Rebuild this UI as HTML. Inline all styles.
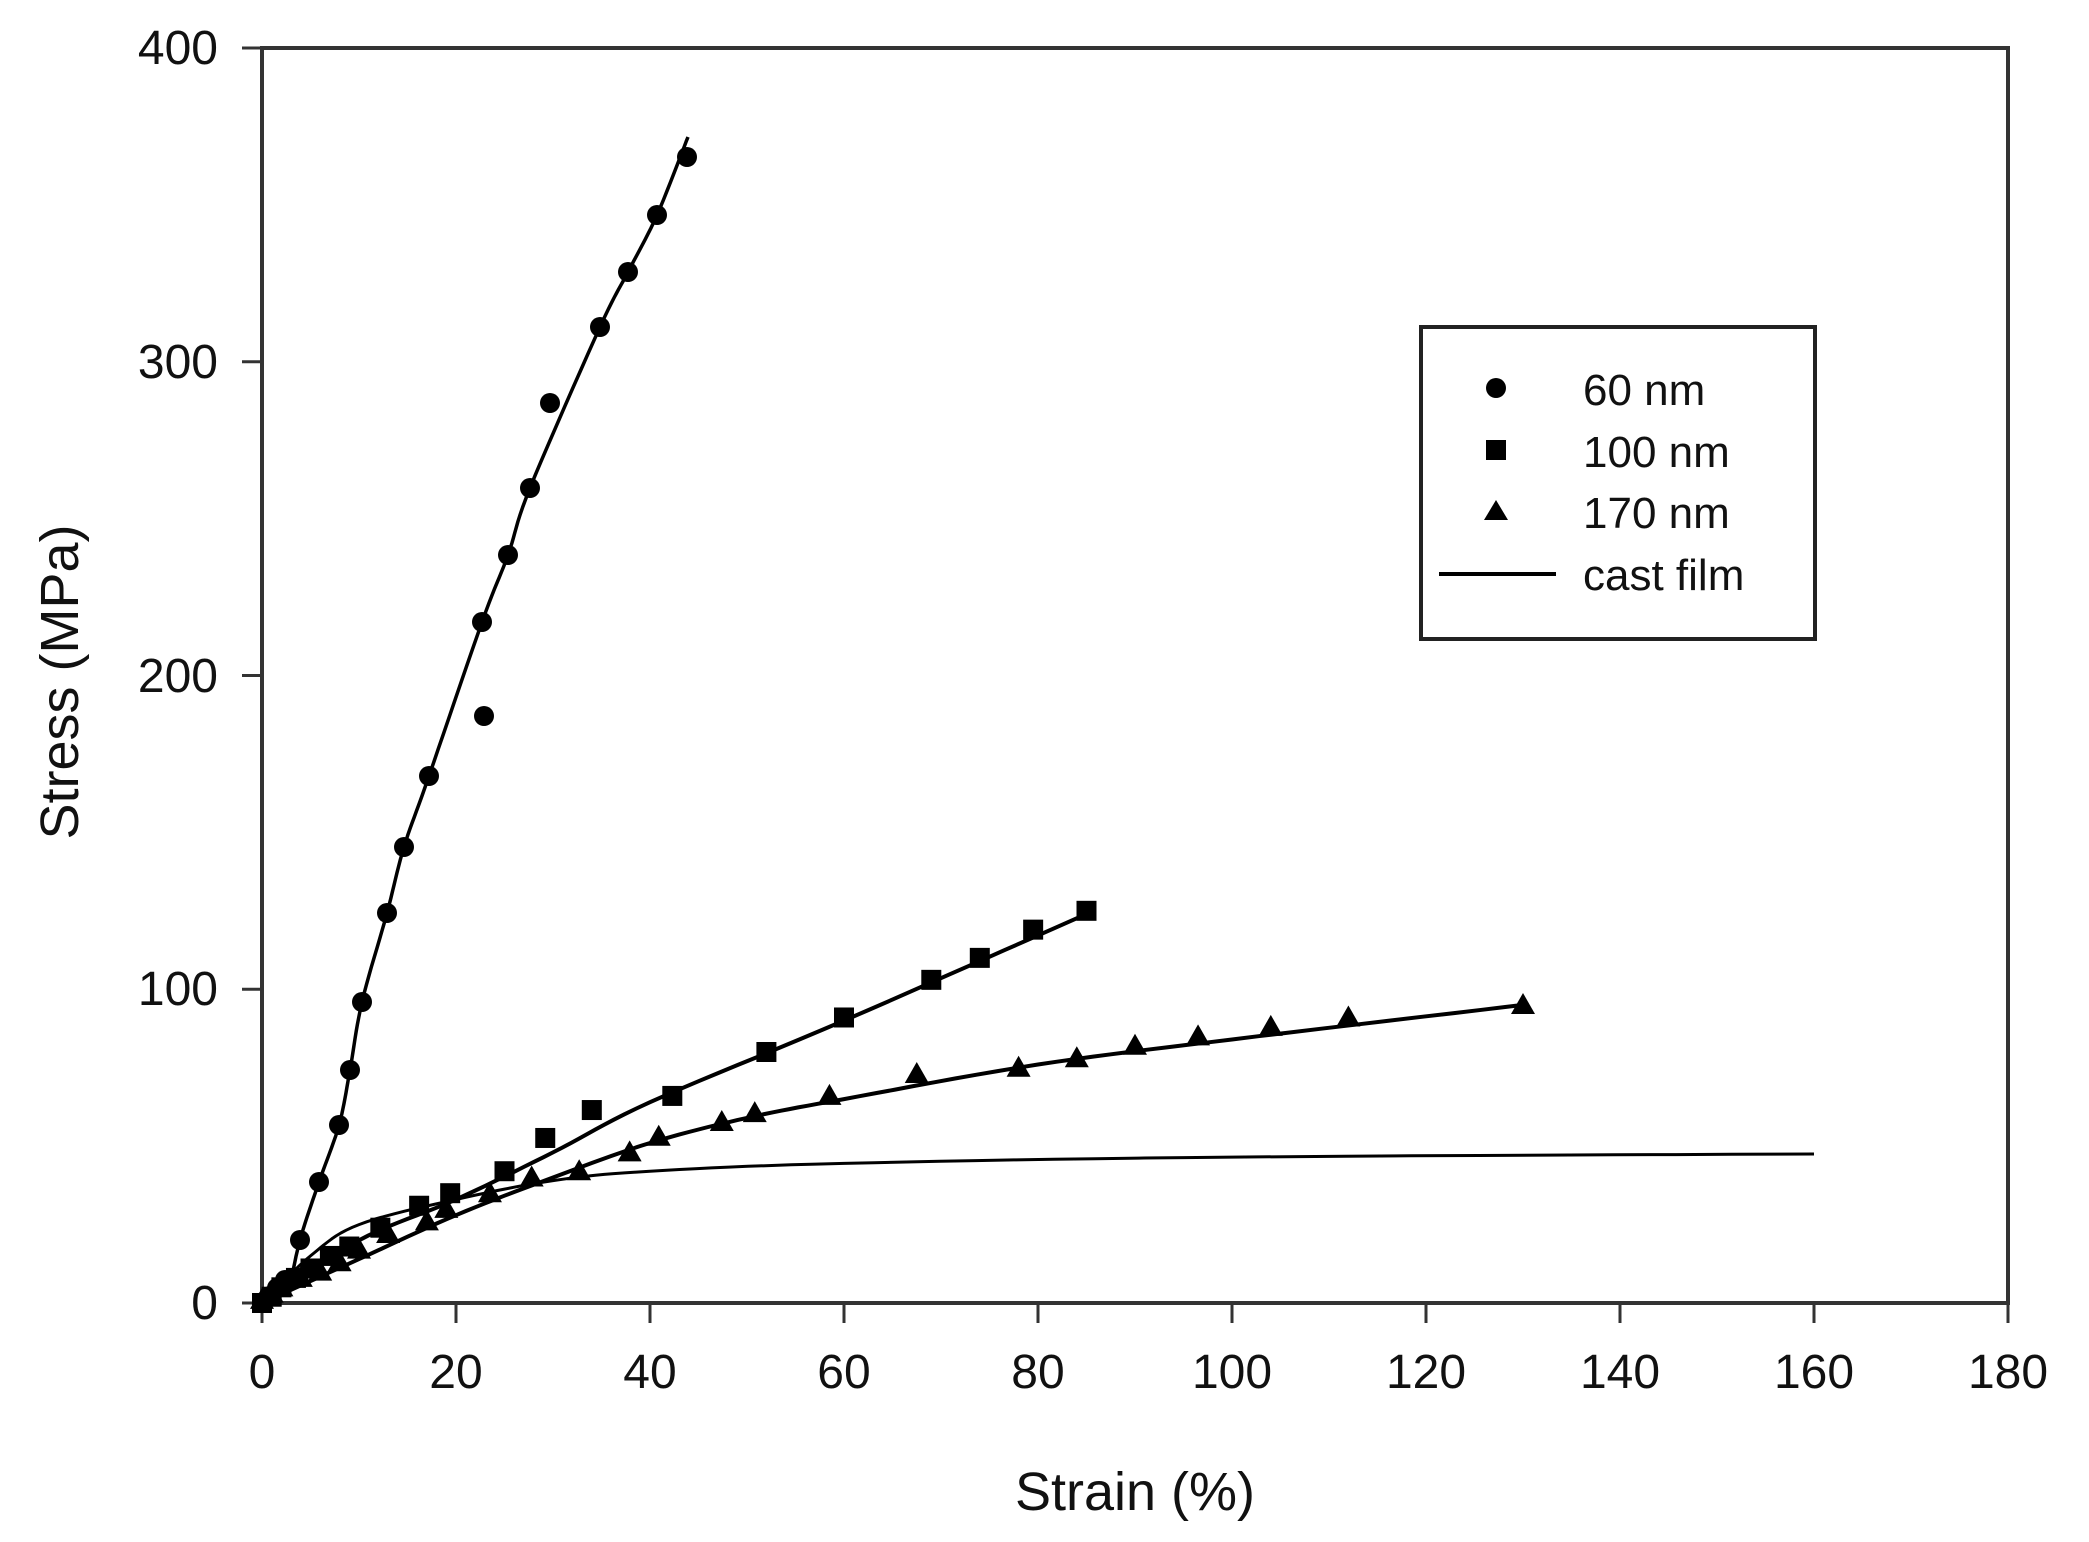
<!DOCTYPE html>
<html><head><meta charset="utf-8"><style>
html,body{margin:0;padding:0;background:#fff;}
svg{display:block;}
text{font-family:"Liberation Sans",Arial,sans-serif;fill:#111;}
</style></head><body>
<svg id="s" width="2089" height="1542" viewBox="0 0 2089 1542" xmlns="http://www.w3.org/2000/svg">
<rect width="2089" height="1542" fill="#fff"/>
<g id="ax" stroke="#333" stroke-width="4" fill="none">
<rect x="262" y="48" width="1746" height="1255"/>
</g>
<g id="ticks" stroke="#333" stroke-width="3"></g>
<g font-size="48" text-anchor="end">
<text x="218" y="64">400</text>
<text x="218" y="378">300</text>
<text x="218" y="692">200</text>
<text x="218" y="1005">100</text>
<text x="218" y="1319">0</text>
</g>
<g font-size="48" text-anchor="middle">
<text x="262" y="1388">0</text>
<text x="456" y="1388">20</text>
<text x="650" y="1388">40</text>
<text x="844" y="1388">60</text>
<text x="1038" y="1388">80</text>
<text x="1232" y="1388">100</text>
<text x="1426" y="1388">120</text>
<text x="1620" y="1388">140</text>
<text x="1814" y="1388">160</text>
<text x="2008" y="1388">180</text>
</g>
<text x="1135" y="1510" font-size="54" text-anchor="middle">Strain (%)</text>
<text transform="translate(78,682) rotate(-90)" font-size="54" text-anchor="middle">Stress (MPa)</text>
<g id="data"></g>
<rect x="1421" y="327" width="394" height="312" fill="#fff" stroke="#222" stroke-width="4"/>
<circle cx="1496" cy="388" r="10" fill="#000"/>
<rect x="1486" y="440" width="20" height="20" fill="#000"/>
<polygon points="1484,520 1508,520 1496,500" fill="#000"/>
<line x1="1439" y1="574" x2="1556" y2="574" stroke="#000" stroke-width="4"/>
<g font-size="44">
<text x="1583" y="405">60 nm</text>
<text x="1583" y="467">100 nm</text>
<text x="1583" y="528">170 nm</text>
<text x="1583" y="590">cast film</text>
</g>
</svg>
<script>
var NS="http://www.w3.org/2000/svg";
function X(x){return 262+x*9.7;}
function Y(y){return 1303-y*3.1375;}
function el(t,a,p){var e=document.createElementNS(NS,t);for(var k in a)e.setAttribute(k,a[k]);p.appendChild(e);return e;}
var tk=document.getElementById('ticks');
for(var i=0;i<=180;i+=20){el('line',{x1:X(i),y1:1303,x2:X(i),y2:1323},tk);}
for(var j=0;j<=400;j+=100){el('line',{x1:242,y1:Y(j),x2:262,y2:Y(j)},tk);}
var d=document.getElementById('data');
function pathPx(pts,w){var s='';pts.forEach(function(p,i){s+=(i?'L':'M')+p[0].toFixed(1)+','+p[1].toFixed(1);});el('path',{d:s,fill:'none',stroke:'#000','stroke-width':w,'stroke-linejoin':'round'},d);}
function path(pts,w){pathPx(pts.map(function(p){return [X(p[0]),Y(p[1])];}),w);}
function smooth(pts){var out=[];for(var i=0;i<pts.length-1;i++){var p0=pts[Math.max(0,i-1)],p1=pts[i],p2=pts[i+1],p3=pts[Math.min(pts.length-1,i+2)];for(var t=0;t<1;t+=0.1){var t2=t*t,t3=t2*t;out.push([0,1].map(function(k){return 0.5*((2*p1[k])+(-p0[k]+p2[k])*t+(2*p0[k]-5*p1[k]+4*p2[k]-p3[k])*t2+(-p0[k]+3*p1[k]-3*p2[k]+p3[k])*t3);}));}}out.push(pts[pts.length-1]);return out;}
path(smooth([[0,0],[5,15],[10,25],[20,33],[30,39],[40,42],[60,44.5],[100,46.5],[160,47.5]]),3);
pathPx(smooth([[290,1287],[300,1240],[319,1182],[339,1125],[350,1070],[362,1002],[387,913],[404,847],[429,776],[482,622],[508,555],[530,488],[600,327],[628,272],[657,215],[688,137]]),3.5);
path(smooth([[0,0],[10,20],[20,33],[30,48],[40,64],[60,90],[85,124]]),4);
path(smooth([[0,0],[10,14],[20,28],[30,40],[40,51],[50,59],[60,65],[80,76],[100,84],[130,95]]),4);
[[263,1302],[270,1296],[277,1288],[285,1280],[300,1240],[319,1182],[339,1125],[350,1070],[362,1002],[387,913],[404,847],[429,776],[484,716],[482,622],[508,555],[530,488],[550,403],[600,327],[628,272],[657,215],[687,157]].forEach(function(p){el('circle',{cx:p[0],cy:p[1],r:10,fill:'#000'},d);});
[[0,0],[1,2],[2,5],[3.5,8],[5,11],[7,15],[9,18],[12.2,24],[16.2,31],[19.4,35],[25,42],[29.2,52.6],[34,61.5],[42.3,66],[52,80],[60,91],[69,103],[74,110],[79.5,119],[85,125]].forEach(function(p){el('rect',{x:X(p[0])-10,y:Y(p[1])-10,width:20,height:20,fill:'#000'},d);});
[[0,1],[1,3],[2,5],[4,8],[6,10],[8,13],[10,17],[13,22],[17,26],[19,30],[23.5,35],[27.8,40],[32.7,42],[37.9,48],[40.9,53],[47.4,57.7],[50.8,60.5],[58.5,66],[67.5,73],[78,75],[84,78],[90,82],[96.5,85],[104,88],[112,91],[130,95]].forEach(function(p){var x=X(p[0]),y=Y(p[1]);el('polygon',{points:(x-12)+','+(y+9)+' '+(x+12)+','+(y+9)+' '+x+','+(y-12),fill:'#000'},d);});
</script>
</body></html>
